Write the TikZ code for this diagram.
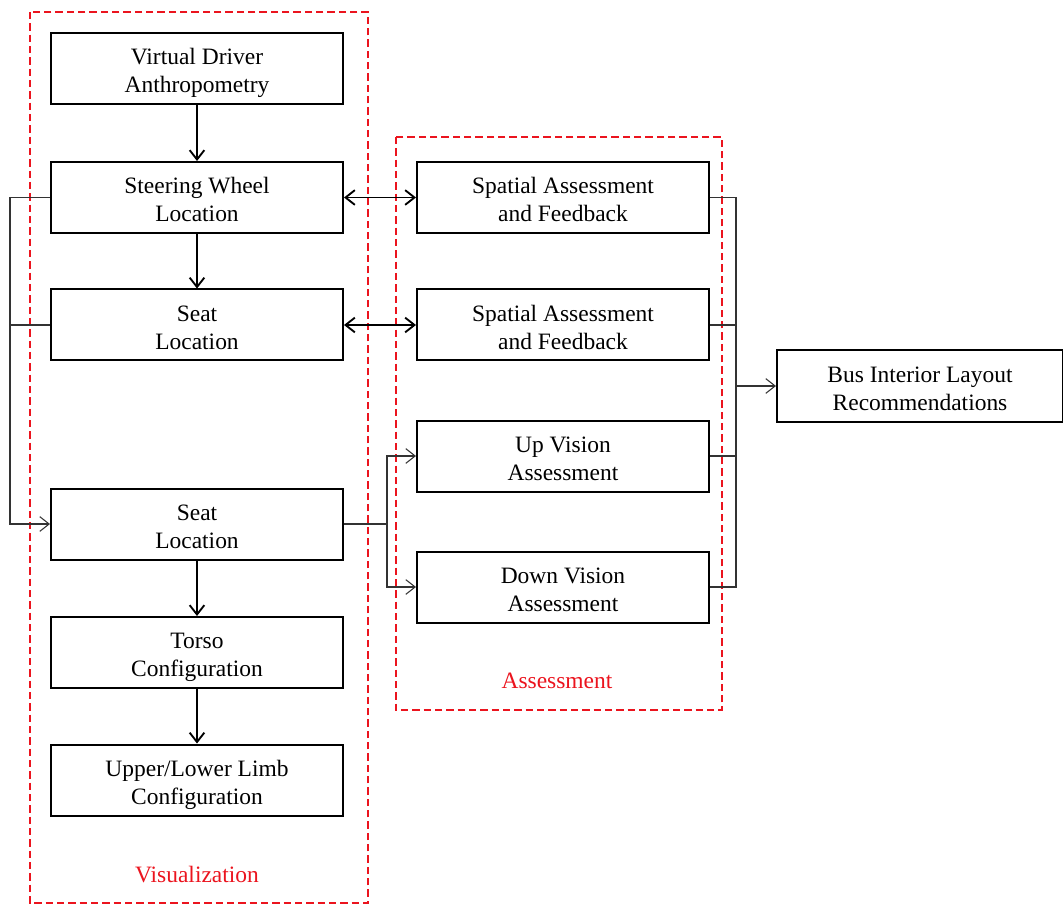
\documentclass[tikz,border=0pt]{standalone}
\usepackage{fontspec}
\setmainfont{Liberation Serif}
\usetikzlibrary{arrows.meta}
\definecolor{redd}{RGB}{235,20,30}
\newcommand{\twol}[2]{\raisebox{-7.8pt}[0pt][0pt]{\begin{tabular}{@{}c@{}}#1\\#2\end{tabular}}}
\begin{document}
\begin{tikzpicture}[x=0.75pt,y=-0.75pt,
  box/.style={draw,line width=1.5pt,minimum width=292*0.75pt,minimum height=71*0.75pt,inner sep=0pt,font=\fontsize{17.6}{21}\selectfont},
  grp/.style={draw=redd,line width=1.5pt,dash pattern=on 5.5pt off 3pt},
  thick arr/.style={line width=1.4pt,-{Straight Barb[length=7pt,width=11pt,line width=1.4pt]}},
  dbl arr/.style={line width=1.4pt,{Straight Barb[length=7pt,width=11pt,line width=1.4pt]}-{Straight Barb[length=7pt,width=11pt,line width=1.4pt]}},
  thin/.style={line width=0.8pt,draw=black!80},
  thin arr/.style={thin,-{Straight Barb[length=7pt,width=11pt,line width=0.8pt]}},
  lbl/.style={text=redd,font=\fontsize{17.6}{21}\selectfont}]
\useasboundingbox (0,0) rectangle (1063,905);
% groups
\draw[grp] (30,12) rectangle (368,903);
\draw[grp] (396,137) rectangle (722,710);
\node[lbl] (vis) at (197,875) {Visualization};
\node[lbl] (ass) at (557,681) {Assessment};
% left column
\node[box] (l1) at (197,68.5) {\twol{Virtual Driver}{Anthropometry}};
\node[box] (l2) at (197,197.5) {\twol{Steering Wheel}{Location}};
\node[box] (l3) at (197,325) {\twol{Seat}{Location}};
\node[box] (l4) at (197,524) {\twol{Seat}{Location}};
\node[box] (l5) at (197,652.5) {\twol{Torso}{Configuration}};
\node[box] (l6) at (197,780) {\twol{Upper/Lower Limb}{Configuration}};
% right column
\node[box] (r1) at (563,197.5) {\twol{Spatial Assessment}{and Feedback}};
\node[box] (r2) at (563,325) {\twol{Spatial Assessment}{and Feedback}};
\node[box] (r3) at (563,456) {\twol{Up Vision}{Assessment}};
\node[box] (r4) at (563,587) {\twol{Down Vision}{Assessment}};
\node[box,minimum width=286*0.75pt] (bus) at (920,386) {\twol{Bus Interior Layout}{Recommendations}};
% vertical arrows
\draw[thick arr] (l1) -- (l2);
\draw[thick arr] (l2) -- (l3);
\draw[thick arr] (l4) -- (l5);
\draw[thick arr] (l5) -- (l6);
% double arrows
\draw[dbl arr] (l2) -- (r1);
\draw[dbl arr] (l3) -- (r2);
% left feedback connector
\coordinate (lx) at (10,0);
\draw[thin] (l2.west) -| (lx |- l3.west) -- (l3.west);
\draw[thin arr] (lx |- l3.west) |- (l4.west);
% middle split
\coordinate (mx) at (387,0);
\draw[thin] (l4.east) -- (mx |- l4.east);
\draw[thin arr] (mx |- l4.east) |- (r3.west);
\draw[thin arr] (mx |- l4.east) |- (r4.west);
% right bracket
\coordinate (rx) at (736,0);
\draw[thin] (r1.east) -| (rx |- r4.east) -- (r4.east);
\draw[thin] (r2.east) -- (rx |- r2.east);
\draw[thin] (r3.east) -- (rx |- r3.east);
\draw[thin arr] (rx |- bus.west) -- (bus.west);
\end{tikzpicture}
\end{document}
